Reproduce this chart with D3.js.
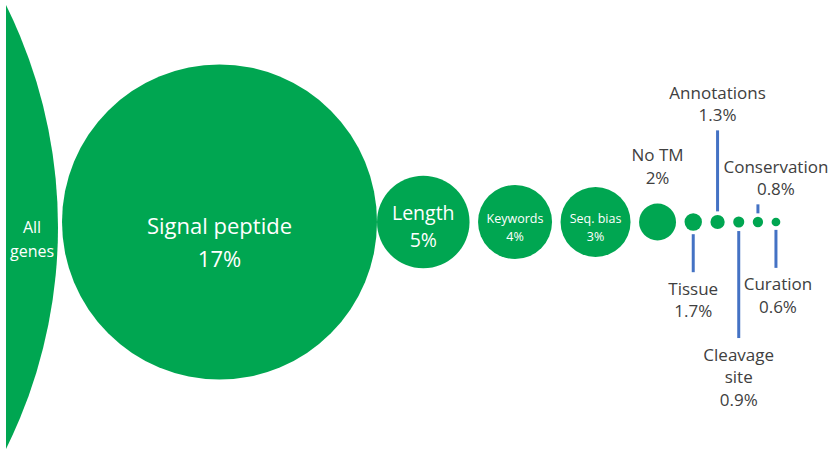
<!DOCTYPE html>
<html>
<head>
<meta charset="utf-8">
<script src="https://cdn.jsdelivr.net/npm/d3@7"></script>
<style>
  html, body { margin: 0; padding: 0; background: #fff; }
  svg { display: block; font-family: "Open Sans", "Noto Sans", sans-serif; }
</style>
</head>
<body>
<svg id="chart" width="830" height="449"></svg>
<script>
// Filter funnel: share of genes kept after each criterion
const categories = ["Signal peptide", "Length", "Keywords", "Seq. bias", "No TM",
                    "Tissue", "Annotations", "Cleavage site", "Conservation", "Curation"];
const shares = [17, 5, 4, 3, 2, 1.7, 1.3, 0.9, 0.8, 0.6];
const shareLabels = ["17%", "5%", "4%", "3%", "2%", "1.7%", "1.3%", "0.9%", "0.8%", "0.6%"];
const baseLabel = ["All", "genes"];

const W = 830, H = 449;
const green = "#00a651", leaderBlue = "#4472c4", ink = "#404040";
const cy = 222;

// share (%) -> circle radius (px)
const r = d3.scaleLinear()
  .domain([0, 1.7, 2, 3, 4, 17])
  .range([2, 8.7, 18.5, 35, 37, 157.5]);

const svg = d3.select("#chart");

// lay the circles out left to right; the first two touch, the rest are spaced
const firstLeft = 62, gap = 8.5;
let cursor = firstLeft;
const nodes = categories.map((name, i) => {
  const rad = r(shares[i]);
  if (i > 1) cursor += gap;
  const cx = cursor + rad;
  cursor = cx + rad;
  return { name, share: shares[i], label: shareLabels[i], r: rad, cx };
});

// "All genes": a very large circle, only its right cap is visible
const allR = 500, allRight = firstLeft - 4, clipLeft = 6;
svg.append("defs").append("clipPath").attr("id", "page")
  .append("rect").attr("x", clipLeft).attr("y", 0).attr("width", W - clipLeft).attr("height", H);

svg.append("circle")
  .attr("clip-path", "url(#page)")
  .attr("cx", allRight - allR).attr("cy", cy + 5).attr("r", allR)
  .attr("fill", green);

svg.append("text")
  .attr("x", (clipLeft + allRight) / 2).attr("y", cy + 11)
  .attr("text-anchor", "middle").attr("fill", "#fff").attr("font-size", 16)
  .selectAll("tspan").data(baseLabel).join("tspan")
  .attr("x", (clipLeft + allRight) / 2)
  .attr("dy", (d, i) => i ? 24 : 0)
  .text(d => d);

// circles
svg.selectAll("circle.step").data(nodes).join("circle")
  .attr("class", "step")
  .attr("cx", d => d.cx).attr("cy", cy).attr("r", d => d.r)
  .attr("fill", green);

// labels drawn inside the larger circles
const inside = {
  "Signal peptide": { size: 22,   base: 12,  lh: 33 },
  "Length":         { size: 19.5, base: -2,  lh: 27 },
  "Keywords":       { size: 12.5, base: 0.7, lh: 18 },
  "Seq. bias":      { size: 12.5, base: 0.7, lh: 18 }
};

nodes.filter(d => inside[d.name]).forEach(d => {
  const s = inside[d.name];
  svg.append("text")
    .attr("text-anchor", "middle").attr("fill", "#fff").attr("font-size", s.size)
    .attr("y", cy + s.base)
    .selectAll("tspan").data([d.name, d.label]).join("tspan")
    .attr("x", d.cx)
    .attr("dy", (t, i) => i ? s.lh : 0)
    .text(t => t);
});

// labels placed above / below the small circles, with leader lines
const outside = {
  "No TM":         { side: "above", lead: 0 },
  "Tissue":        { side: "below", lead: 38 },
  "Annotations":   { side: "above", lead: 81 },
  "Cleavage site": { side: "below", lead: 107, wrap: true },
  "Conservation":  { side: "above", lead: 9, dx: 18 },
  "Curation":      { side: "below", lead: 38, dx: 2 }
};
const outSize = 17, outLh = 22.5, lineGap = 3.5;

nodes.filter(d => outside[d.name]).forEach(d => {
  const o = outside[d.name];
  const lines = (o.wrap ? d.name.split(" ") : [d.name]).concat([d.label]);
  let firstBase;
  if (o.side === "above") {
    const edge = cy - d.r;
    let lastBase = edge - 20;
    if (o.lead) {
      const y1 = edge - lineGap, y0 = y1 - o.lead;
      svg.append("line").attr("x1", d.cx).attr("x2", d.cx).attr("y1", y0).attr("y2", y1)
        .attr("stroke", leaderBlue).attr("stroke-width", 3);
      lastBase = y0 - 9;
    }
    firstBase = lastBase - (lines.length - 1) * outLh;
  } else {
    const y0 = cy + d.r + lineGap, y1 = y0 + o.lead;
    svg.append("line").attr("x1", d.cx).attr("x2", d.cx).attr("y1", y0).attr("y2", y1)
      .attr("stroke", leaderBlue).attr("stroke-width", 3);
    firstBase = y1 + 22.5;
  }
  const tx = d.cx + (o.dx || 0);
  svg.append("text")
    .attr("text-anchor", "middle").attr("fill", ink).attr("font-size", outSize)
    .attr("y", firstBase)
    .selectAll("tspan").data(lines).join("tspan")
    .attr("x", tx)
    .attr("dy", (t, i) => i ? outLh : 0)
    .text(t => t);
});
</script>
</body>
</html>
